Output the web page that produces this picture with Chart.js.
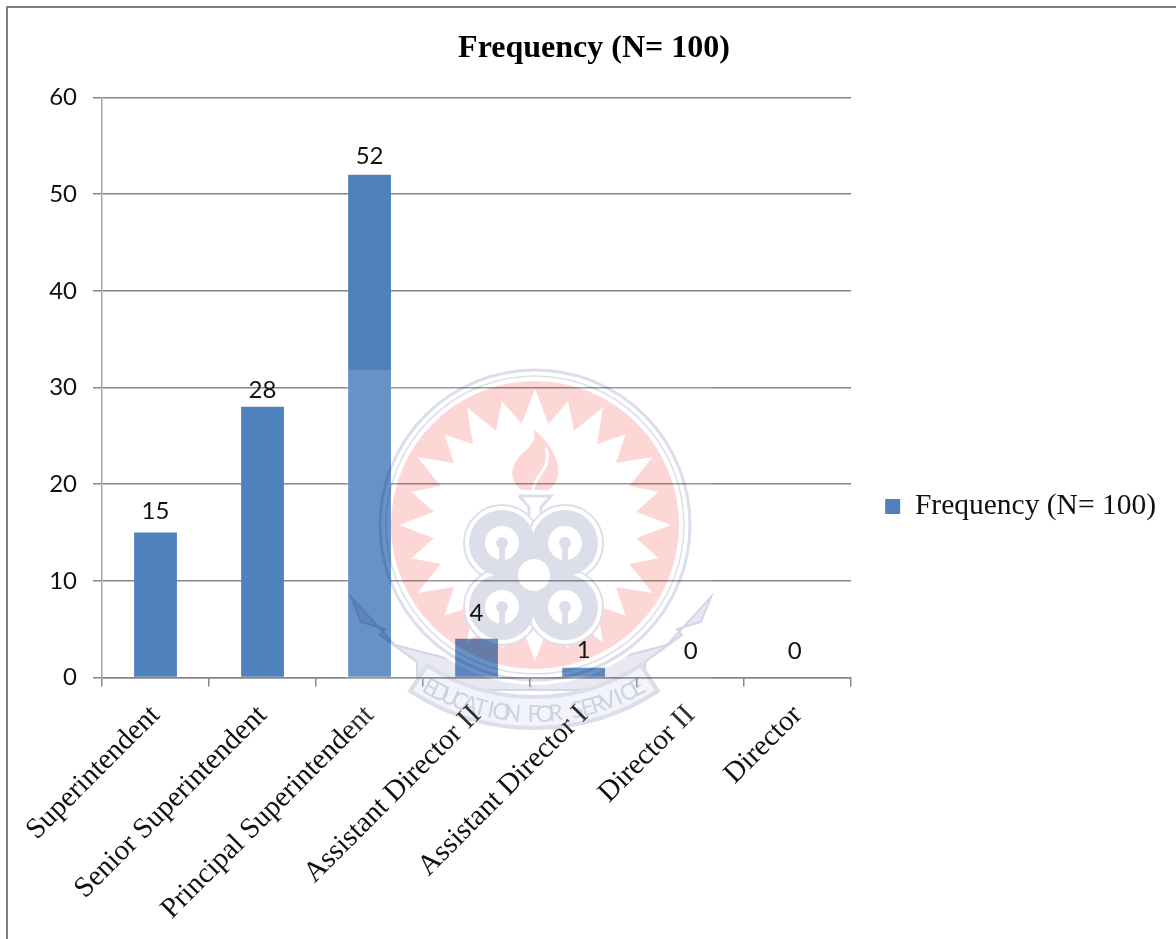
<!DOCTYPE html>
<html>
<head>
<meta charset="utf-8">
<title>Frequency (N= 100)</title>
<script src="https://cdn.jsdelivr.net/npm/chart.js@4/dist/chart.umd.min.js"></script>
<style>
    html, body { margin: 0; padding: 0; background: #fff; }
    canvas { display: block; }
</style>
</head>
<body>
<canvas id="rankChart" width="1176" height="939"></canvas>
<script>
const categories = ['Superintendent', 'Senior Superintendent', 'Principal Superintendent', 'Assistant Director II', 'Assistant Director I', 'Director II', 'Director'];
const frequency = [15, 28, 52, 4, 1, 0, 0];
const seriesName = 'Frequency (N= 100)';
const yTicks = [0, 10, 20, 30, 40, 50, 60];

const SERIF = '"Liberation Serif", serif';
const SANS = 'Lato, "Open Sans", sans-serif';
const BAR_COLOR = '#4f81bd';
const GRID_COLOR = '#868686';
// hand placed in the original, so the gap over each bar differs a little
const labelLift = [9, 5, 6, 14, 6, 14, 14];
const labelShift = [0, 0, 0, 0, 0, 0, -3];

function buildSeal() {
    const seal = document.createElement('canvas');
    seal.width = 1176;
    seal.height = 939;
    const c = seal.getContext('2d');
    const cx = 535, cy = 525;
    const pink = '#fdd6d6', grey = '#dcdeea';

    c.fillStyle = '#fff';
    c.fillRect(0, 0, 1176, 939);

    // ribbon wings, the white disc below covers their inner edge
    const wing = [[531, 680], [395, 645], [351, 597], [361, 622], [385, 629], [380, 635], [417, 662], [417, 690], [531, 690]];
    c.fillStyle = '#e7e8f2';
    c.strokeStyle = '#d3d6e6';
    c.lineWidth = 2;
    [1, -1].forEach(side => {
        c.beginPath();
        wing.forEach(p => c.lineTo(side > 0 ? p[0] : 1062 - p[0], p[1]));
        c.closePath();
        c.fill();
        c.stroke();
    });
    c.fillStyle = '#fff';
    c.beginPath();
    c.arc(cx, cy, 160, 0, Math.PI * 2);
    c.fill();

    // pink disc and white sunburst
    c.fillStyle = pink;
    c.beginPath();
    c.arc(cx, cy, 144, 0, Math.PI * 2);
    c.fill();

    c.fillStyle = '#fff';
    c.beginPath();
    const spikes = 24;
    for (let i = 0; i < spikes; i++) {
        const a = -Math.PI / 2 + i * Math.PI * 2 / spikes;
        const b = a + Math.PI / spikes;
        const tip = i === 0 ? 136 : (i % 2 ? 128 : 136);
        c.lineTo(cx + Math.cos(a) * tip, cy + Math.sin(a) * tip);
        c.lineTo(cx + Math.cos(b) * 102, cy + Math.sin(b) * 102);
    }
    c.closePath();
    c.fill();

    // rings
    c.strokeStyle = grey;
    c.lineWidth = 3;
    c.beginPath();
    c.arc(cx, cy, 155, 0, Math.PI * 2);
    c.stroke();
    c.lineWidth = 1.5;
    c.beginPath();
    c.arc(cx, cy, 149, 0, Math.PI * 2);
    c.stroke();

    // flame
    c.fillStyle = pink;
    c.beginPath();
    c.moveTo(534, 430);
    c.bezierCurveTo(560, 450, 566, 480, 548, 490);
    c.lineTo(522, 490);
    c.bezierCurveTo(506, 480, 512, 462, 524, 452);
    c.bezierCurveTo(532, 445, 536, 440, 534, 430);
    c.fill();
    c.strokeStyle = '#fff';
    c.lineWidth = 3;
    c.beginPath();
    c.moveTo(546, 448);
    c.bezierCurveTo(552, 470, 536, 472, 533, 490);
    c.stroke();

    // torch neck
    c.strokeStyle = grey;
    c.lineWidth = 3;
    c.beginPath();
    c.moveTo(519, 496);
    c.lineTo(551, 496);
    c.lineTo(541, 507);
    c.lineTo(541, 515);
    c.moveTo(519, 496);
    c.lineTo(529, 507);
    c.lineTo(529, 515);
    c.stroke();

    // four knots
    const knots = [[502, 543], [565, 543], [502, 607], [565, 607]];
    c.lineWidth = 2;
    knots.forEach(k => {
        c.fillStyle = '#fff';
        c.beginPath();
        c.arc(k[0], k[1], 38, 0, Math.PI * 2);
        c.fill();
        c.stroke();
    });
    knots.forEach(k => {
        c.fillStyle = grey;
        c.beginPath();
        c.arc(k[0], k[1], 33, 0, Math.PI * 2);
        c.fill();
    });
    c.fillStyle = grey;
    c.fillRect(522, 540, 26, 70);
    c.fillRect(500, 562, 66, 26);
    knots.forEach(k => {
        c.fillStyle = '#fff';
        c.beginPath();
        c.arc(k[0], k[1], 17, 0, Math.PI * 2);
        c.fill();
        c.fillStyle = grey;
        c.beginPath();
        c.arc(k[0], k[1], 6, 0, Math.PI * 2);
        c.fill();
        c.fillRect(k[0] - 3, k[1], 6, 20);
    });
    c.fillStyle = '#fff';
    c.beginPath();
    c.arc(534, 575, 16, 0, Math.PI * 2);
    c.fill();

    // ribbon banner
    const rx = 534, ry = 502;
    c.fillStyle = '#f3f4f9';
    c.strokeStyle = grey;
    c.lineWidth = 4;
    c.beginPath();
    c.arc(rx, ry, 195, Math.PI / 2 + 0.58, Math.PI / 2 - 0.58, true);
    c.arc(rx, ry, 226, Math.PI / 2 - 0.58, Math.PI / 2 + 0.58);
    c.closePath();
    c.fill();
    c.stroke();

    // motto follows the ribbon curve
    const motto = 'EDUCATION FOR SERVICE';
    c.font = '23px ' + SANS;
    c.fillStyle = '#cdd1e3';
    c.textAlign = 'center';
    c.textBaseline = 'alphabetic';
    const step = 0.051;
    for (let i = 0; i < motto.length; i++) {
        const t = (i - (motto.length - 1) / 2) * step;
        c.save();
        c.translate(rx + Math.sin(t) * 220, ry + Math.cos(t) * 220);
        c.rotate(-t);
        c.fillText(motto[i], 0, 0);
        c.restore();
    }
    return seal;
}

const pagePlugin = {
    id: 'page',
    beforeDraw(chart) {
        const ctx = chart.ctx;
        ctx.save();
        ctx.fillStyle = '#fff';
        ctx.fillRect(0, 0, chart.width, chart.height);
        ctx.strokeStyle = '#808080';
        ctx.lineWidth = 2;
        ctx.beginPath();
        ctx.moveTo(7, chart.height);
        ctx.lineTo(7, 7);
        ctx.lineTo(chart.width, 7);
        ctx.stroke();
        ctx.restore();
    },
    afterLayout(chart) {
        // legend sits a little below the page centre in the original
        chart.legend.top += 37;
        chart.legend.bottom += 37;
    }
};

const sealPlugin = {
    id: 'seal',
    afterDatasetsDraw(chart) {
        const ctx = chart.ctx;
        ctx.save();
        ctx.fillStyle = 'rgba(255,255,255,0.14)';
        ctx.fillRect(345, 370, 366, 360);
        ctx.globalCompositeOperation = 'multiply';
        ctx.drawImage(buildSeal(), 0, 0);
        ctx.restore();
    }
};

const valueLabels = {
    id: 'valueLabels',
    afterDatasetsDraw(chart) {
        const ctx = chart.ctx;
        ctx.save();
        ctx.font = '24px ' + SANS;
        ctx.fillStyle = '#111';
        ctx.textAlign = 'center';
        ctx.textBaseline = 'bottom';
        chart.getDatasetMeta(0).data.forEach((bar, i) => {
            ctx.fillText(frequency[i], bar.x + labelShift[i], bar.y - labelLift[i]);
        });
        ctx.restore();
    }
};

new Chart(document.getElementById('rankChart'), {
    type: 'bar',
    data: {
        labels: categories,
        datasets: [{
            label: seriesName,
            data: frequency,
            backgroundColor: BAR_COLOR,
            barPercentage: 0.4,
            categoryPercentage: 1
        }]
    },
    options: {
        responsive: false,
        animation: false,
        layout: { padding: { left: 22, right: 10, top: 0, bottom: 0 } },
        plugins: {
            title: {
                display: true,
                text: seriesName,
                color: '#000',
                font: { family: SERIF, size: 32, weight: 'bold' },
                padding: { top: 30, bottom: 29 }
            },
            legend: {
                position: 'right',
                maxWidth: 325,
                labels: {
                    color: '#111',
                    font: { family: SERIF, size: 29.5 },
                    boxWidth: 15,
                    boxHeight: 15,
                    padding: 34
                }
            },
            tooltip: { enabled: false }
        },
        scales: {
            x: {
                afterFit(scale) { scale.height = 261.5; },
                grid: { display: true, drawOnChartArea: false, color: GRID_COLOR, lineWidth: 1.5, tickLength: 9 },
                border: { color: GRID_COLOR, width: 1.5 },
                ticks: {
                    color: '#111',
                    font: { family: SERIF, size: 29 },
                    minRotation: 45,
                    maxRotation: 45,
                    autoSkip: false,
                    padding: 12
                }
            },
            y: {
                min: 0,
                max: 60,
                afterFit(scale) { scale.width = 80; },
                afterBuildTicks(scale) { scale.ticks = yTicks.map(v => ({ value: v })); },
                grid: { color: GRID_COLOR, lineWidth: 1.5, tickLength: 9 },
                border: { color: '#a6a6a6', width: 1.5 },
                ticks: {
                    color: '#111',
                    font: { family: SANS, size: 24 },
                    padding: 16
                }
            }
        }
    },
    plugins: [pagePlugin, sealPlugin, valueLabels]
});
</script>
</body>
</html>
